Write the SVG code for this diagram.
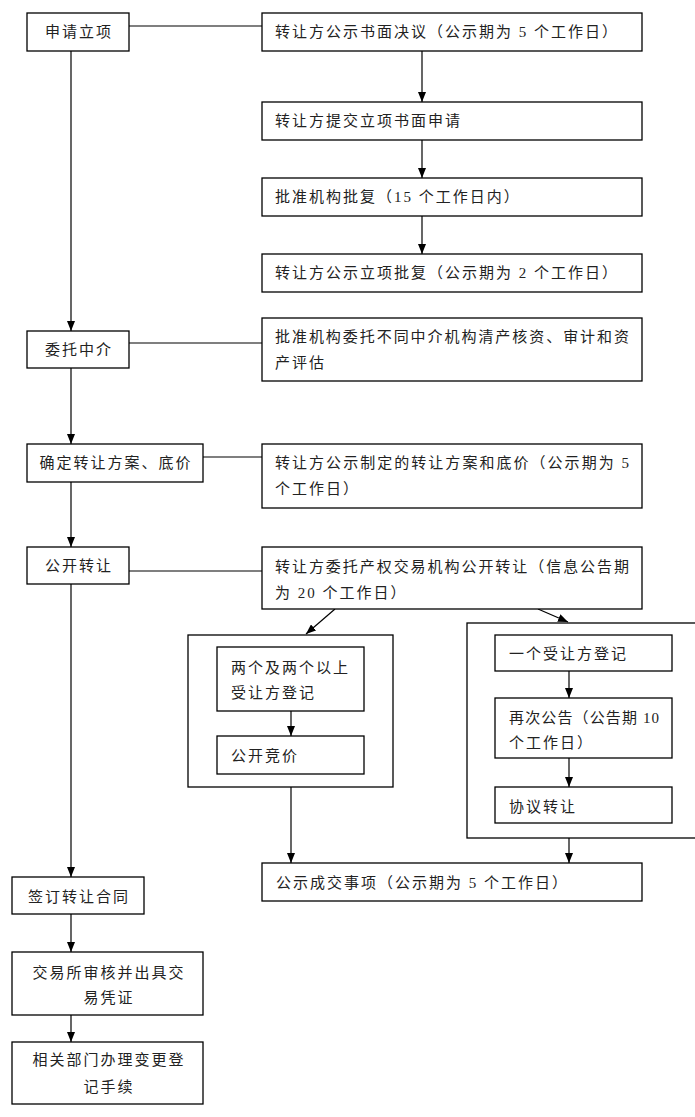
<svg xmlns="http://www.w3.org/2000/svg" width="695" height="1117" viewBox="0 0 695 1117">
<style>
.b{fill:#fff;stroke:#000;stroke-width:1.3}
.g{fill:none;stroke:#000;stroke-width:1.3}
.t{font-family:"Liberation Serif","Noto Sans CJK SC",serif;font-size:15px;letter-spacing:2px;fill:#222}
.c{text-anchor:middle}
.l{fill:none;stroke:#000;stroke-width:1.2}
</style>
<defs>
<marker id="ah" markerUnits="userSpaceOnUse" markerWidth="10" markerHeight="8" refX="10" refY="4" orient="auto">
<path d="M0,0 L10,4 L0,8 z" fill="#000"/>
</marker>
</defs>
<rect width="695" height="1117" fill="#fff"/>
<g id="connectors">
<line class="l" x1="129" y1="26" x2="262" y2="26"/>
<line class="l" x1="71" y1="51" x2="71" y2="331" marker-end="url(#ah)"/>
<line class="l" x1="422" y1="51" x2="422" y2="102" marker-end="url(#ah)"/>
<line class="l" x1="422" y1="140" x2="422" y2="178" marker-end="url(#ah)"/>
<line class="l" x1="422" y1="216" x2="422" y2="254" marker-end="url(#ah)"/>
<line class="l" x1="129" y1="343" x2="262" y2="343"/>
<line class="l" x1="71" y1="368" x2="71" y2="444" marker-end="url(#ah)"/>
<line class="l" x1="203" y1="457" x2="262" y2="457"/>
<line class="l" x1="71" y1="482" x2="71" y2="547" marker-end="url(#ah)"/>
<line class="l" x1="129" y1="571" x2="262" y2="571"/>
<line class="l" x1="71" y1="584" x2="71" y2="877" marker-end="url(#ah)"/>
<line class="l" x1="335" y1="609" x2="306" y2="634" marker-end="url(#ah)"/>
<line class="l" x1="538" y1="609" x2="568" y2="622" marker-end="url(#ah)"/>
<line class="l" x1="291" y1="711" x2="291" y2="736" marker-end="url(#ah)"/>
<line class="l" x1="291" y1="787" x2="291" y2="863" marker-end="url(#ah)"/>
<line class="l" x1="569" y1="671" x2="569" y2="698" marker-end="url(#ah)"/>
<line class="l" x1="569" y1="758" x2="569" y2="787" marker-end="url(#ah)"/>
<line class="l" x1="569" y1="838" x2="569" y2="863" marker-end="url(#ah)"/>
<line class="l" x1="71" y1="914" x2="71" y2="952" marker-end="url(#ah)"/>
<line class="l" x1="71" y1="1015" x2="71" y2="1042" marker-end="url(#ah)"/>
</g>
<g id="n1"><rect class="b" x="27" y="13" width="102" height="38"/><text class="t c" x="79" y="37">申请立项</text></g>
<g id="n2"><rect class="b" x="262" y="13" width="380" height="38"/><text class="t" x="275" y="37">转让方公示书面决议（公示期为 5 个工作日）</text></g>
<g id="n3"><rect class="b" x="262" y="102" width="380" height="38"/><text class="t" x="275" y="126">转让方提交立项书面申请</text></g>
<g id="n4"><rect class="b" x="262" y="178" width="380" height="38"/><text class="t" x="275" y="202">批准机构批复（15 个工作日内）</text></g>
<g id="n5"><rect class="b" x="262" y="254" width="380" height="38"/><text class="t" x="275" y="278">转让方公示立项批复（公示期为 2 个工作日）</text></g>
<g id="n6"><rect class="b" x="27" y="331" width="102" height="37"/><text class="t c" x="79" y="355">委托中介</text></g>
<g id="n7"><rect class="b" x="262" y="318" width="380" height="63"/><text class="t" x="275" y="342" textLength="356" lengthAdjust="spacing">批准机构委托不同中介机构清产核资、审计和资</text><text class="t" x="275" y="368">产评估</text></g>
<g id="n8"><rect class="b" x="27" y="444" width="176" height="38"/><text class="t c" x="116" y="468">确定转让方案、底价</text></g>
<g id="n9"><rect class="b" x="262" y="444" width="380" height="64"/><text class="t" x="275" y="468" textLength="356" lengthAdjust="spacing">转让方公示制定的转让方案和底价（公示期为 5</text><text class="t" x="275" y="494">个工作日）</text></g>
<g id="n10"><rect class="b" x="27" y="547" width="102" height="37"/><text class="t c" x="79" y="571">公开转让</text></g>
<g id="n11"><rect class="b" x="262" y="547" width="380" height="62"/><text class="t" x="275" y="572" textLength="356" lengthAdjust="spacing">转让方委托产权交易机构公开转让（信息公告期</text><text class="t" x="275" y="598">为 20 个工作日）</text></g>
<g id="g1"><rect class="g" x="188" y="635" width="205" height="152"/></g>
<g id="n12"><rect class="b" x="217" y="647" width="147" height="64"/><text class="t" x="231" y="673">两个及两个以上</text><text class="t" x="231" y="698">受让方登记</text></g>
<g id="n13"><rect class="b" x="217" y="736" width="147" height="38"/><text class="t" x="231" y="761">公开竞价</text></g>
<g id="g2"><rect class="g" x="467" y="623" width="240" height="215"/></g>
<g id="n14"><rect class="b" x="495" y="635" width="177" height="36"/><text class="t" x="509" y="659">一个受让方登记</text></g>
<g id="n15"><rect class="b" x="495" y="698" width="177" height="60"/><text class="t" x="509" y="723" textLength="152" lengthAdjust="spacing">再次公告（公告期 10</text><text class="t" x="509" y="748">个工作日）</text></g>
<g id="n16"><rect class="b" x="495" y="787" width="177" height="36"/><text class="t" x="509" y="812">协议转让</text></g>
<g id="n17"><rect class="b" x="262" y="863" width="380" height="38"/><text class="t" x="276" y="888">公示成交事项（公示期为 5 个工作日）</text></g>
<g id="n18"><rect class="b" x="12" y="877" width="132" height="37"/><text class="t c" x="79" y="902">签订转让合同</text></g>
<g id="n19"><rect class="b" x="12" y="952" width="191" height="63"/><text class="t c" x="109" y="978">交易所审核并出具交</text><text class="t c" x="109" y="1003">易凭证</text></g>
<g id="n20"><rect class="b" x="12" y="1042" width="191" height="62"/><text class="t c" x="109" y="1065">相关部门办理变更登</text><text class="t c" x="109" y="1092">记手续</text></g>
</svg>
